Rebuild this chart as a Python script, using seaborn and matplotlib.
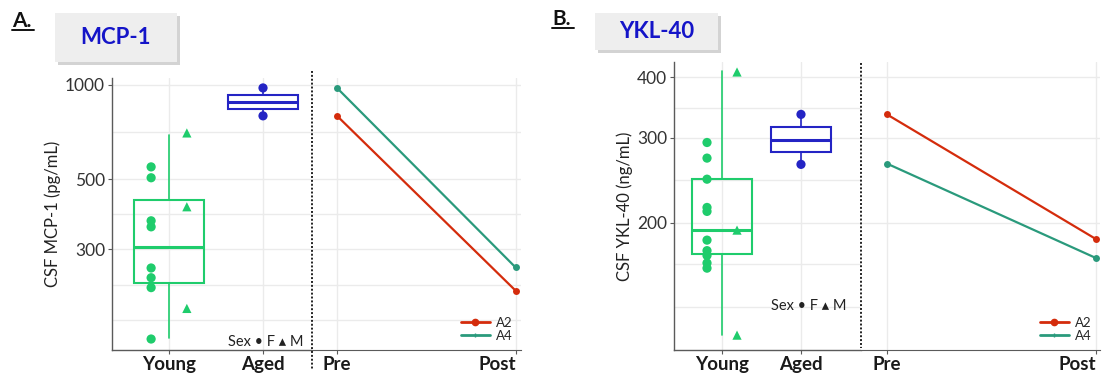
import matplotlib
matplotlib.use("Agg")
import matplotlib.pyplot as plt
import pandas as pd
import numpy as np
import seaborn as sns
from matplotlib import ticker as mtick
from matplotlib.lines import Line2D
from matplotlib.patches import Rectangle

# ---- data ----
groups = ["Young", "Aged"]
times = ["Pre", "Post"]
strains = ["A2", "A4"]

# panel A: MCP-1 (pg/mL)
mcp_young_f = [548, 506, 369, 353, 261, 243, 226, 155]
mcp_young_m = [703, 409, 194]
mcp_aged_f = [978, 797]
mcp_box_young = [156, 234, 305, 430, 693]   # whislo, q1, med, q3, whishi
mcp_box_aged = [797, 839, 883, 929, 978]
mcp_a2 = [797, 221]   # pre, post
mcp_a4 = [978, 262]
mcp_ticks = [300, 500, 1000]
mcp_minor = [178, 231, 387, 707]

# panel B: YKL-40 (ng/mL)
ykl_young_f = [293, 272, 246, 215, 211, 184, 175, 171, 165, 161]
ykl_young_m = [410, 193, 117]
ykl_aged_f = [335, 264]
ykl_box_young = [117, 172, 193, 246, 412]
ykl_box_aged = [264, 280, 297, 315, 335]
ykl_a2 = [335, 185]
ykl_a4 = [265, 169]
ykl_ticks = [200, 300, 400]
ykl_minor = [134, 164, 245, 346]

GREEN = "#1fcc6c"
BLUE = "#2424c4"
RED = "#d42c0c"
TEAL = "#2a9a7c"
GRID = "#ebebeb"
SPINE = "#5a5a5a"

sns.set_style("white")
plt.rcParams['font.family'] = ['Lato', 'DejaVu Sans']

W, H = 1105, 385
fig = plt.figure(figsize=(W / 100, H / 100), dpi=100)


def px_axes(x0, x1, y0, y1):
    return fig.add_axes([x0 / W, 1 - y1 / H, (x1 - x0) / W, (y1 - y0) / H])


def box_stats(v):
    return [dict(whislo=v[0], q1=v[1], med=v[2], q3=v[3], whishi=v[4], fliers=[])]


def left_panel(ax, young_f, young_m, aged_f, box_y, box_a, ticks, minor, ylim, xlim, ylabel, sexpos):
    ax.set_yscale("log")
    rows = [("Young", "F", v) for v in young_f] + [("Young", "M", v) for v in young_m] \
        + [("Aged", "F", v) for v in aged_f]
    df = pd.DataFrame(rows, columns=["group", "sex", "value"])
    gi = df["group"].map({g: i for i, g in enumerate(groups)})
    off = np.where(df["group"] == "Young", df["sex"].map({"F": -0.19, "M": 0.19}), 0.0)
    df["xpos"] = gi + off

    for pos, st, col, fc in [(0, box_y, GREEN, "none"), (1, box_a, BLUE, "white")]:
        ax.bxp(box_stats(st), positions=[pos], widths=0.75, showfliers=False, showcaps=False,
               patch_artist=True,
               boxprops=dict(edgecolor=col, facecolor=fc, linewidth=1.5),
               whiskerprops=dict(color=col, linewidth=1.2),
               medianprops=dict(color=col, linewidth=2.2))

    sns.scatterplot(data=df, x="xpos", y="value", hue="group", style="sex",
                    markers={"F": "o", "M": "^"}, palette={"Young": GREEN, "Aged": BLUE},
                    s=44, linewidth=0, legend=False, ax=ax, zorder=4)

    ax.set_ylim(*ylim)
    ax.set_xlim(*xlim)
    ax.yaxis.set_major_locator(mtick.FixedLocator(ticks))
    ax.yaxis.set_major_formatter(mtick.FixedFormatter([str(t) for t in ticks]))
    ax.yaxis.set_minor_locator(mtick.FixedLocator(minor))
    ax.yaxis.set_minor_formatter(mtick.NullFormatter())
    ax.set_xticks([0, 1])
    ax.set_xticklabels(groups, fontsize=13.5, fontweight="bold", color="#1a1a1a")
    ax.tick_params(axis="y", which="major", labelsize=12.5, labelcolor="#333333",
                   length=3, color=SPINE, left=True, pad=2)
    ax.tick_params(axis="y", which="minor", length=0)
    ax.tick_params(axis="x", length=3, color=SPINE, bottom=True, pad=1)
    ax.grid(True, which="both", axis="y", color=GRID, linewidth=1)
    ax.grid(True, which="major", axis="x", color=GRID, linewidth=1)
    ax.set_axisbelow(True)
    for s in ["top", "right"]:
        ax.spines[s].set_visible(False)
    for s in ["left", "bottom"]:
        ax.spines[s].set_color(SPINE)
        ax.spines[s].set_linewidth(1)
    ax.set_xlabel("")
    ax.set_ylabel(ylabel, fontsize=12, color="#222222", labelpad=3)
    ax.text(sexpos[0], sexpos[1], "Sex \u2022 F \u25b4 M", transform=ax.transAxes,
            ha="right", va="bottom", fontsize=10.5, color="#222222",
            family=["Lato", "DejaVu Sans"])


def right_panel(ax, a2, a4, ticks, minor, ylim, xlim):
    ax.set_yscale("log")
    rows = [(s, t, v) for s, vals in zip(strains, [a2, a4]) for t, v in zip(range(2), vals)]
    df = pd.DataFrame(rows, columns=["strain", "t", "value"])
    sns.lineplot(data=df, x="t", y="value", hue="strain", palette={"A2": RED, "A4": TEAL},
                 marker="o", markersize=5, markeredgewidth=0, linewidth=1.6, ax=ax, legend=False)
    ax.set_ylim(*ylim)
    ax.set_xlim(*xlim)
    ax.yaxis.set_major_locator(mtick.FixedLocator(ticks))
    ax.yaxis.set_minor_locator(mtick.FixedLocator(minor))
    ax.yaxis.set_major_formatter(mtick.NullFormatter())
    ax.yaxis.set_minor_formatter(mtick.NullFormatter())
    ax.tick_params(axis="y", which="both", length=0)
    ax.set_xticks([0, 1])
    ax.set_xticklabels(times, fontsize=13.5, fontweight="bold", color="#1a1a1a")
    ax.get_xticklabels()[1].set_ha("right")
    ax.tick_params(axis="x", length=3, color=SPINE, bottom=True, pad=1)
    ax.grid(True, which="both", axis="y", color=GRID, linewidth=1)
    ax.grid(True, which="major", axis="x", color=GRID, linewidth=1)
    ax.set_axisbelow(True)
    for s in ["top", "right", "left"]:
        ax.spines[s].set_visible(False)
    ax.spines["bottom"].set_color(SPINE)
    ax.set_xlabel("")
    ax.set_ylabel("")
    handles = [Line2D([], [], color=RED, marker="o", markersize=4.5, linewidth=2),
               Line2D([], [], color=TEAL, marker="|", markersize=3, linewidth=2)]
    ax.legend(handles, strains, loc="lower right", frameon=False, fontsize=9.5,
              handlelength=2.2, handletextpad=0.5, labelspacing=0.1,
              borderaxespad=0.2, bbox_to_anchor=(1.0, 0.0))


def title_box(x0, x1, y0, y1, label, letter, lx, ly):
    fig.patches.append(Rectangle(((x0 + 3) / W, 1 - (y1 + 3) / H), (x1 - x0) / W, (y1 - y0) / H,
                                 transform=fig.transFigure, facecolor="#b0b0b0", edgecolor="none",
                                 alpha=0.55, zorder=1))
    fig.patches.append(Rectangle((x0 / W, 1 - y1 / H), (x1 - x0) / W, (y1 - y0) / H,
                                 transform=fig.transFigure, facecolor="#eeeeee", edgecolor="none",
                                 zorder=2))
    fig.text((x0 + x1) / 2 / W, 1 - (y0 + y1) / 2 / H, label, ha="center", va="center",
             fontsize=16, fontweight="bold", color="#1414c8", zorder=3)
    fig.text(lx / W, 1 - ly / H, letter, ha="left", va="baseline", fontsize=15,
             fontweight="bold", color="#111111")
    fig.add_artist(Line2D([lx / W, (lx + 22) / W], [1 - (ly + 3) / H, 1 - (ly + 3) / H],
                          color="#111111", linewidth=1.4, transform=fig.transFigure))


def dotted(x, y0, y1):
    fig.add_artist(Line2D([x / W, x / W], [1 - y0 / H, 1 - y1 / H], color="#222222",
                          linewidth=1.4, linestyle=(0, (1, 1)), transform=fig.transFigure))


# panel A
axA = px_axes(112, 312, 78, 350)
left_panel(axA, mcp_young_f, mcp_young_m, mcp_aged_f, mcp_box_young, mcp_box_aged,
           mcp_ticks, mcp_minor, (143, 1052), (-0.606, 1.521), "CSF MCP-1 (pg/mL)", (0.96, 0.005))
axA2 = px_axes(312, 521, 78, 350)
right_panel(axA2, mcp_a2, mcp_a4, mcp_ticks, mcp_minor, (143, 1052), (-0.14, 1.03))
dotted(312, 71, 370)
title_box(55, 177, 13, 62, "MCP-1", "A.", 12, 27)

# panel B
axB = px_axes(674, 861, 62, 350)
left_panel(axB, ykl_young_f, ykl_young_m, ykl_aged_f, ykl_box_young, ykl_box_aged,
           ykl_ticks, ykl_minor, (109, 430), (-0.608, 1.76), "CSF YKL-40 (ng/mL)", (0.92, 0.13))
axB2 = px_axes(861, 1100, 62, 350)
right_panel(axB2, ykl_a2, ykl_a4, ykl_ticks, [], (109, 430), (-0.124, 1.02))
dotted(861, 63, 348)
title_box(595, 718, 13, 50, "YKL-40", "B.", 552, 25)

fig.savefig("out.png", dpi=100)
